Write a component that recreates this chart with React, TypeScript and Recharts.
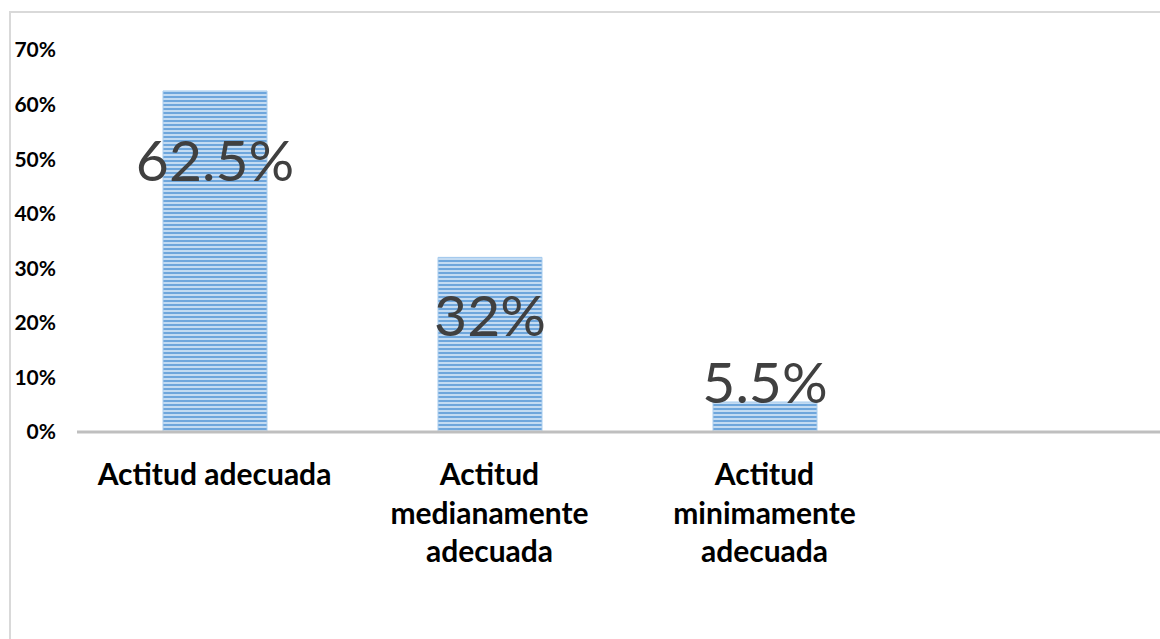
import React from 'react';
import { BarChart, Bar, XAxis, YAxis, LabelList } from 'recharts';

const categories = [
  'Actitud adecuada',
  'Actitud medianamente adecuada',
  'Actitud minimamente adecuada',
  '',
];
const values = [0.625, 0.32, 0.055, null];
const valueLabels = ['62.5%', '32%', '5.5%', ''];
const yTicks = [0, 0.1, 0.2, 0.3, 0.4, 0.5, 0.6, 0.7];

// label baselines were moved by hand in the original, offset from bar top
const labelOffsets = [90, 79, 1, 0];

const FONT = 'Lato, "Open Sans", sans-serif';
const CAT_FONT = `700 30px ${FONT}`;
const WRAP_WIDTH = 262;

let ctx: CanvasRenderingContext2D | null = null;
function measure(s: string) {
  if (!ctx) ctx = document.createElement('canvas').getContext('2d');
  if (!ctx) return s.length * 16;
  ctx.font = CAT_FONT;
  return ctx.measureText(s).width;
}

function wrap(s: string) {
  const lines: string[] = [];
  let cur = '';
  s.split(' ').forEach((w) => {
    const next = cur ? `${cur} ${w}` : w;
    if (cur && measure(next) > WRAP_WIDTH) {
      lines.push(cur);
      cur = w;
    } else {
      cur = next;
    }
  });
  if (cur) lines.push(cur);
  return lines;
}

const chartData = categories.map((name, i) => ({
  name,
  value: values[i],
  label: valueLabels[i],
}));

const CategoryTick = ({ x, y, payload }: any) => {
  if (!payload.value) return null;
  const lines = wrap(payload.value);
  return (
    <text
      x={x}
      y={y + 51}
      textAnchor="middle"
      fill="#000"
      style={{ fontFamily: FONT, fontSize: 30, fontWeight: 700 }}
    >
      {lines.map((l, i) => (
        <tspan key={i} x={x} dy={i === 0 ? 0 : 38.5}>
          {l}
        </tspan>
      ))}
    </text>
  );
};

const ValueLabel = (props: any) => {
  const { x, y, width, index } = props;
  const text = valueLabels[index];
  if (!text) return null;
  return (
    <text
      x={x + width / 2}
      y={y + labelOffsets[index]}
      textAnchor="middle"
      fill="#404040"
      style={{ fontFamily: FONT, fontSize: 57, fontWeight: 400 }}
    >
      {text}
    </text>
  );
};

export default function App() {
  return (
    <div
      style={{
        position: 'fixed',
        left: 0,
        top: 0,
        width: 1160,
        height: 639,
        overflow: 'hidden',
        background: '#fff',
      }}
    >
      <div
        style={{
          position: 'absolute',
          left: 9,
          top: 11,
          right: 0,
          bottom: 0,
          borderLeft: '2px solid #d9d9d9',
          borderTop: '2px solid #d9d9d9',
        }}
      />
      <div style={{ position: 'absolute', left: 0, top: 0 }}>
        <BarChart
          width={1177}
          height={639}
          data={chartData}
          margin={{ top: 50, right: 0, bottom: 0, left: 0 }}
        >
          <defs>
            <pattern id="stripes" width="8" height="4" patternUnits="userSpaceOnUse">
              <rect width="8" height="4" fill="#c3dbf2" />
              <rect width="8" height="2" fill="#6ea6dc" />
            </pattern>
          </defs>
          <XAxis
            dataKey="name"
            height={207}
            axisLine={{ stroke: '#bfbfbf', strokeWidth: 3 }}
            tickLine={false}
            tickSize={0}
            tick={<CategoryTick />}
            interval={0}
          />
          <YAxis
            width={77}
            domain={[0, 0.7]}
            ticks={yTicks}
            axisLine={false}
            tickLine={false}
            tickSize={0}
            tickMargin={21}
            tickFormatter={(v: number) => `${Math.round(v * 100)}%`}
            tick={{ fill: '#000', fontFamily: FONT, fontSize: 21, fontWeight: 700 }}
          />
          <Bar
            dataKey="value"
            barSize={104}
            fill="url(#stripes)"
            stroke="#a9cdee"
            strokeWidth={1}
            isAnimationActive={false}
          >
            <LabelList dataKey="label" content={<ValueLabel />} />
          </Bar>
        </BarChart>
      </div>
    </div>
  );
}
